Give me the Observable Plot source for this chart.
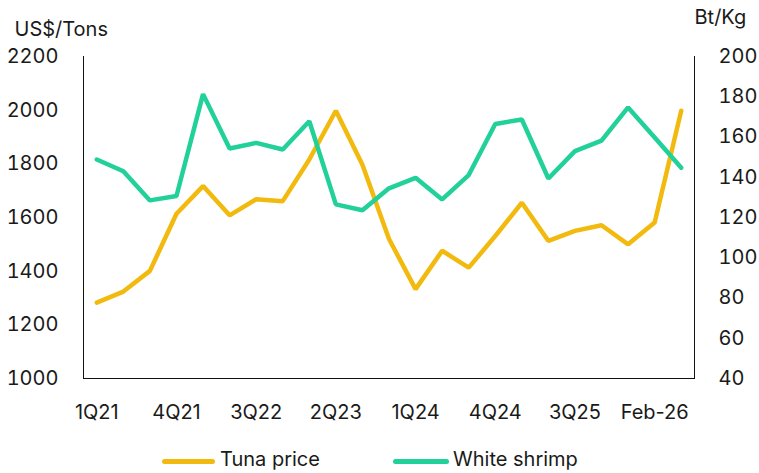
<!DOCTYPE html>
<html>
<head>
<meta charset="utf-8">
<script src="https://cdn.jsdelivr.net/npm/d3@7"></script>
<script src="https://cdn.jsdelivr.net/npm/@observablehq/plot@0.6"></script>
<style>
  html, body { margin: 0; padding: 0; background: #fff; }
  body { width: 759px; height: 473px; overflow: hidden; font-family: Inter, "Noto Sans", sans-serif; color: #1a1a1a; }
  #legend { position: relative; width: 759px; height: 43px; font-size: 20px; }
  .sw { position: absolute; height: 5px; border-radius: 3px; top: 29px; }
  .lt { position: absolute; top: 19px; line-height: 20px; }
</style>
</head>
<body>
<div id="chart"></div>
<div id="legend">
  <div class="sw" style="left:162px;width:53px;background:#F2BA0E"></div>
  <div class="lt" style="left:220px">Tuna price</div>
  <div class="sw" style="left:393px;width:56px;background:#22D09A"></div>
  <div class="lt" style="left:453px">White shrimp</div>
</div>
<script>
const categories = ["1Q21","2Q21","3Q21","4Q21","1Q22","2Q22","3Q22","4Q22","1Q23","2Q23","3Q23","4Q23","1Q24","2Q24","3Q24","4Q24","1Q25","2Q25","3Q25","4Q25","Jan-26","Feb-26","Mar-26"];
const tunaPrice = [1283,1324,1401,1614,1717,1608,1668,1661,1816,1998,1797,1520,1333,1476,1413,1531,1655,1513,1550,1571,1500,1581,1998];
const whiteShrimp = [148.8,143.0,128.5,130.7,181.3,154.3,157.1,153.8,167.8,126.5,123.6,134.5,139.7,129.0,141.1,166.5,168.7,139.4,153.0,158.2,174.7,159.7,144.7];
const xTickLabels = ["1Q21","4Q21","3Q22","2Q23","1Q24","4Q24","3Q25","Feb-26"];
const leftTicks = [1000,1200,1400,1600,1800,2000,2200];
const rightTicks = [40,60,80,100,120,140,160,180,200];

const TUNA = "#F2BA0E", SHRIMP = "#22D09A";
// map right axis (40..200) onto left axis (1000..2200)
const toLeft = v => 1000 + (v - 40) * (1200 / 160);
const toRight = v => 40 + (v - 1000) * (160 / 1200);

const tuna = categories.map((c, i) => ({c, v: tunaPrice[i]}));
const shrimp = categories.map((c, i) => ({c, v: toLeft(whiteShrimp[i])}));

const chart = Plot.plot({
  width: 759,
  height: 430,
  marginTop: 56,
  marginBottom: 52,
  marginLeft: 83,
  marginRight: 65,
  style: {fontFamily: "Inter, 'Noto Sans', sans-serif", fontSize: "20px", color: "#1a1a1a", background: "#fff"},
  x: {type: "point", domain: categories, padding: 0.5, round: false},
  y: {domain: [1000, 2200]},
  marks: [
    Plot.axisX({ticks: xTickLabels, tickSize: 0, tickPadding: 26, label: null, fontSize: 20}),
    Plot.axisY({ticks: leftTicks, tickSize: 0, tickPadding: 25, label: null, anchor: "left", tickFormat: d => String(d)}),
    Plot.axisY(rightTicks.map(toLeft), {tickSize: 0, tickPadding: 24, label: null, anchor: "right", tickFormat: d => String(Math.round(toRight(d)))}),
    Plot.frame({anchor: "left", stroke: "#111", strokeOpacity: 1}),
    Plot.frame({anchor: "right", stroke: "#111", strokeOpacity: 1}),
    Plot.frame({anchor: "bottom", stroke: "#111", strokeOpacity: 1}),
    Plot.line(tuna, {x: "c", y: "v", stroke: TUNA, strokeWidth: 4.5, strokeLinecap: "round", strokeLinejoin: "miter"}),
    Plot.line(shrimp, {x: "c", y: "v", stroke: SHRIMP, strokeWidth: 4.5, strokeLinecap: "round", strokeLinejoin: "miter"}),
    Plot.text(["US$/Tons"], {frameAnchor: "top-left", dx: -69, dy: -21, textAnchor: "start", lineAnchor: "bottom", fontSize: 20, fill: "#1a1a1a"}),
    Plot.text(["Bt/Kg"], {frameAnchor: "top-right", dx: 0, dy: -33, textAnchor: "start", lineAnchor: "bottom", fontSize: 20, fill: "#1a1a1a"})
  ]
});
document.getElementById("chart").appendChild(chart);
</script>
</body>
</html>
